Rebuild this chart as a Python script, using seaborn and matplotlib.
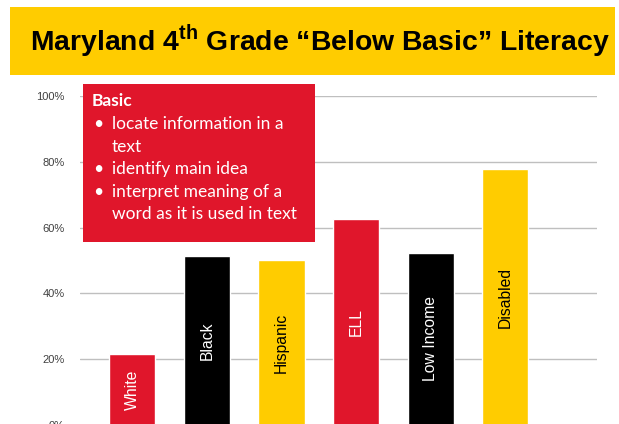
import matplotlib
matplotlib.use("Agg")
import matplotlib.pyplot as plt
import seaborn as sns
from matplotlib.patches import Rectangle
from matplotlib.ticker import PercentFormatter

# data
groups = ["White", "Black", "Hispanic", "ELL", "Low Income", "Disabled"]
below_basic = [21.5, 51.4, 50.2, 62.6, 52.3, 77.8]
bar_colors = ["#E0162B", "#000000", "#FFCC00", "#E0162B", "#000000", "#FFCC00"]
label_colors = ["white", "white", "black", "white", "white", "black"]
y_ticks = [0, 20, 40, 60, 80, 100]

box_title = "Basic"
box_bullets = [
    ["locate information in a", "text"],
    ["identify main idea"],
    ["interpret meaning of a", "word as it is used in text"],
]

sns.set_theme(style="white")
plt.rcParams["font.family"] = ["Liberation Sans", "DejaVu Sans"]
plt.rcParams["mathtext.fontset"] = "custom"
plt.rcParams["mathtext.bf"] = "Liberation Sans:bold"
plt.rcParams["mathtext.rm"] = "Liberation Sans"

W, H = 619, 424
fig = plt.figure(figsize=(W / 100, H / 100), dpi=100)


def fx(px):
    return px / W


def fy(py):
    return 1 - py / H


# chart area
ax = fig.add_axes([fx(80), fy(425), (597 - 80) / W, (425 - 96) / H])
sns.barplot(x=groups, y=below_basic, hue=groups, palette=bar_colors,
            width=0.62, legend=False, saturation=1, ax=ax, zorder=3)
ax.set_xlim(-0.70, 6.23)
ax.set_ylim(0, 100)
ax.set_yticks(y_ticks)
ax.yaxis.set_major_formatter(PercentFormatter(decimals=0))
ax.grid(axis="y", color="#BFBFBF", linewidth=1, zorder=0)
ax.grid(axis="x", visible=False)
ax.set_axisbelow(True)
for s in ax.spines.values():
    s.set_visible(False)
ax.set_xticks([])
ax.set_xlabel("")
ax.set_ylabel("")
ax.tick_params(axis="y", length=0, pad=11, labelsize=8, labelcolor="#404040")

# labels inside the bars
for i, (g, v) in enumerate(zip(groups, below_basic)):
    ax.text(i, v / 2, g, rotation=90, ha="center", va="center",
            color=label_colors[i], fontsize=11.3, zorder=4)

# yellow title banner
fig.patches.append(Rectangle((fx(10), fy(75)), (615 - 10) / W, (75 - 7) / H,
                             transform=fig.transFigure, facecolor="#FFCC00",
                             edgecolor="none", zorder=0))
fig.text(fx(30), fy(41), "Maryland 4$^{\\mathbf{th}}$ Grade \u201cBelow Basic\u201d Literacy",
         ha="left", va="center", fontsize=20.4, fontweight="bold", color="black")

# red "Basic" box
fig.patches.append(Rectangle((fx(83), fy(242)), (315 - 83) / W, (242 - 84) / H,
                             transform=fig.transFigure, facecolor="#E0162B",
                             edgecolor="none", zorder=5))
box_font = ["Lato", "DejaVu Sans"]
fig.text(fx(92), fy(101), box_title, ha="left", va="center", fontsize=12.5,
         fontweight="bold", color="white", family=box_font, zorder=6)
line_y = 124
for item in box_bullets:
    fig.text(fx(93), fy(line_y), "\u2022", ha="left", va="center", fontsize=12.5,
             color="white", family=box_font, zorder=6)
    for line in item:
        fig.text(fx(112), fy(line_y), line, ha="left", va="center", fontsize=12.5,
                 color="white", family=box_font, zorder=6)
        line_y += 22.6

fig.savefig("out.png", dpi=100)
